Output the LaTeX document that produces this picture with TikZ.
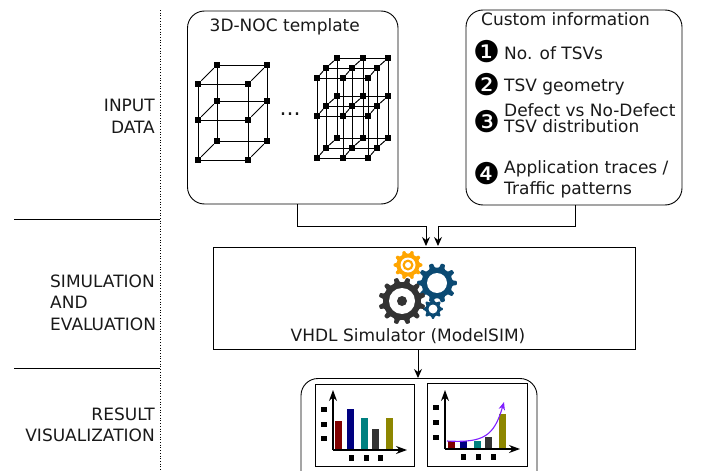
\documentclass[tikz,border=0pt]{standalone}
\usepackage{fontspec}
\setmainfont{DejaVu Sans}
\usetikzlibrary{arrows.meta}
\definecolor{gearblue}{HTML}{0B4A73}
\definecolor{geardark}{HTML}{333333}
\definecolor{gearorange}{HTML}{FFA500}
\definecolor{curvepurple}{HTML}{7F1FFF}
\newcommand\mygear[7]{% x y outer root teeth colour rotation
  \pgfmathsetmacro\gp{360/#5}
  \begin{scope}[shift={(#1,#2)}]
    \fill[#6,rounded corners=.8pt] (#7-0.28*\gp:#4) \foreach \k in {1,...,#5}{
      -- ({#7+(\k-1)*\gp-0.28*\gp}:#4) -- ({#7+(\k-1)*\gp-0.16*\gp}:#3)
      -- ({#7+(\k-1)*\gp+0.16*\gp}:#3) -- ({#7+(\k-1)*\gp+0.28*\gp}:#4)
      -- ({#7+(\k-1)*\gp+0.5*\gp}:#4)} -- cycle;
  \end{scope}}
\tikzset{
  x=1pt,y=-1pt,
  lbl/.style={font=\fontsize{17}{20}\selectfont,inner sep=0pt,text=black!90},
  num/.style={font=\fontsize{30}{30}\selectfont,inner sep=0pt,text=black},
  rbox/.style={draw,line width=.9pt,rounded corners=17pt},
  sqbox/.style={draw,line width=.9pt},
  conn/.style={draw,line width=1pt,-{Stealth[length=9pt,width=8pt]}},
  rule/.style={draw,line width=.7pt},
  mesh/.style={line width=1pt},
  dot/.style={fill=black,minimum size=6.5pt,inner sep=0pt,outer sep=0pt,rectangle},
  tick/.style={fill=black,minimum width=5.5pt,minimum height=5pt,inner sep=0pt},
  axis/.style={line width=1.1pt,-{Stealth[length=11pt,width=8pt]}},
  chartbox/.style={draw,line width=1pt},
}
\begin{document}
\begin{tikzpicture}
\useasboundingbox (0,0) rectangle (702,471);
% section rules
\coordinate (dtop) at (160,10);
\coordinate (dbot) at (160,471);
\draw[line width=.7pt,dotted] (dtop) -- (dbot);
\coordinate (r1a) at (14,219); \coordinate (r1b) at (160,219);
\coordinate (r2a) at (14,368); \coordinate (r2b) at (160,368);
\draw[rule] (r1a) -- (r1b);
\draw[rule] (r2a) -- (r2b);
% section labels
\node[lbl,anchor=base east] (lInput) at (155,111) {INPUT};
\node[lbl,anchor=base east] (lData) at (155,133) {DATA};
\node[lbl,anchor=base west] (lSim) at (50,287) {SIMULATION};
\node[lbl,anchor=base west] (lAnd) at (50,308) {AND};
\node[lbl,anchor=base west] (lEval) at (50,330) {EVALUATION};
\node[lbl,anchor=base east] (lRes) at (155,420) {RESULT};
\node[lbl,anchor=base east] (lVis) at (155,441) {VISUALIZATION};
% boxes
\draw[rbox] (187.5,11) coordinate (tmplNW) rectangle (398,204) coordinate (tmplSE);
\draw[rbox] (466,10) coordinate (custNW) rectangle (682,205) coordinate (custSE);
\draw[sqbox] (213,247) coordinate (simNW) rectangle (635,349.5) coordinate (simSE);
\draw[rbox] (301,378.5) coordinate (resNW) rectangle (537,490) coordinate (resSE);
% connectors
\coordinate (tmplOut) at (297,204);
\coordinate (custOut) at (575,205);
\coordinate (simInL) at (426,246);
\coordinate (simInR) at (438,246);
\coordinate (simOut) at (418,349.5);
\coordinate (resIn) at (418,378);
\draw[conn] (tmplOut) -- (297,226) -| (simInL);
\draw[conn] (custOut) -- (575,226) -| (simInR);
\draw[conn] (simOut) -- (resIn);
% template
\node[lbl,anchor=base west] (tmplT) at (209.5,31) {3D-NOC template};
\node[lbl,anchor=base,font=\fontsize{22}{22}\selectfont] (dots) at (290,115) {...};
% small mesh
\foreach \i/\x in {0/198,1/248}
 \foreach \j/\dx/\dy in {0/0/0,1/19/-19}
  \foreach \k/\y in {0/84,1/120,2/160}
   \node[dot] (a\i\j\k) at (\x+\dx,\y+\dy) {};
\foreach \j in {0,1}\foreach \k in {0,1,2}\draw[mesh] (a0\j\k) -- (a1\j\k);
\foreach \i in {0,1}\foreach \k in {0,1,2}\draw[mesh] (a\i0\k) -- (a\i1\k);
\foreach \i in {0,1}\foreach \j in {0,1}\draw[mesh] (a\i\j0) -- (a\i\j1) -- (a\i\j2);
% large mesh
\foreach \i/\x in {0/317,1/343,2/368}
 \foreach \j/\dx/\dy in {0/0/0,1/9/-10,2/20/-20}
  \foreach \k/\y in {0/78,1/116,2/158}
   \node[dot] (b\i\j\k) at (\x+\dx,\y+\dy) {};
\foreach \j in {0,1,2}\foreach \k in {0,1,2}\draw[mesh] (b0\j\k) -- (b1\j\k) -- (b2\j\k);
\foreach \i in {0,1,2}\foreach \k in {0,1,2}\draw[mesh] (b\i0\k) -- (b\i1\k) -- (b\i2\k);
\foreach \i in {0,1,2}\foreach \j in {0,1,2}\draw[mesh] (b\i\j0) -- (b\i\j1) -- (b\i\j2);
% custom information
\node[lbl,anchor=base west] (custT) at (481,25) {Custom information};
\node[num] (n1) at (486.5,52) {❶};
\node[num] (n2) at (486.5,85) {❷};
\node[num] (n3) at (486.5,122) {❸};
\node[num] (n4) at (486.5,174) {❹};
\node[lbl,anchor=base west] (t1) at (504,59) {No. of TSVs};
\node[lbl,anchor=base west] (t2) at (504,91) {TSV geometry};
\node[lbl,anchor=base west] (t3a) at (504,116) {Defect vs No-Defect};
\node[lbl,anchor=base west] (t3b) at (504,132) {TSV distribution};
\node[lbl,anchor=base west] (t4a) at (504,173) {Application traces /};
\node[lbl,anchor=base west] (t4b) at (504,194) {Traffic patterns};
% simulator
\mygear{437}{283}{20}{15.5}{10}{gearblue}{0}
\fill[white] (437,283) circle (10);
\mygear{433}{309}{10}{7.5}{8}{gearblue}{0}
\fill[white] (433,309) circle (4.5);
\mygear{408}{265}{14.5}{11.5}{10}{gearorange}{0}
\fill[white] (408,265) circle (7.5);
\fill[gearorange] (408,265) circle (5.5);
\fill[white] (408,265) circle (3);
\mygear{402}{301}{23.5}{19}{12}{geardark}{15}
\fill[white] (402,301) circle (13);
\fill[geardark] (402,301) circle (5);
\node[lbl,anchor=base] (simT) at (408,341) {VHDL Simulator (ModelSIM)};
% chart 1
\draw[chartbox] (315,384) coordinate (c1NW) rectangle (414,466) coordinate (c1SE);
\coordinate (c1o) at (333,450);
\coordinate (c1y) at (333,390);
\coordinate (c1x) at (407,450);
\fill[black!50!red] (335,421) rectangle (342,450);
\fill[black!50!blue] (347,409) rectangle (354,450);
\fill[teal] (361,418) rectangle (368,450);
\fill[geardark] (372,429) rectangle (379,450);
\fill[olive] (386,418) rectangle (393,450);
\draw[axis] (c1o) -- (c1y);
\draw[axis] (c1o) -- (c1x);
\foreach \y in {409,424,438}\node[tick] (c1t\y) at (324,\y) {};
\foreach \x in {351,366,380}\node[tick,minimum width=5pt,minimum height=5.5pt] (c1b\x) at (\x,458) {};
% chart 2
\draw[chartbox] (427,383) coordinate (c2NW) rectangle (527,466) coordinate (c2SE);
\coordinate (c2o) at (445,449);
\coordinate (c2y) at (445,390);
\coordinate (c2x) at (520,449);
\fill[black!50!red] (448,441) rectangle (455,449);
\fill[black!50!blue] (460,441) rectangle (467,449);
\fill[teal] (474,441) rectangle (481,449);
\fill[geardark] (485,437) rectangle (492,449);
\fill[olive] (499,414) rectangle (506,449);
\draw[axis] (c2o) -- (c2y);
\draw[axis] (c2o) -- (c2x);
\coordinate (cvA) at (447,441);
\coordinate (cvB) at (504,402);
\draw[curvepurple,line width=1.1pt,-{Stealth[length=8pt,width=6.5pt]}] (cvA) .. controls (484,443) and (494,436) .. (cvB);
\foreach \y in {407,422,437}\node[tick] (c2t\y) at (436,\y) {};
\foreach \x in {463,478,493}\node[tick,minimum width=5pt,minimum height=5.5pt] (c2b\x) at (\x,457) {};
\end{tikzpicture}
\end{document}
